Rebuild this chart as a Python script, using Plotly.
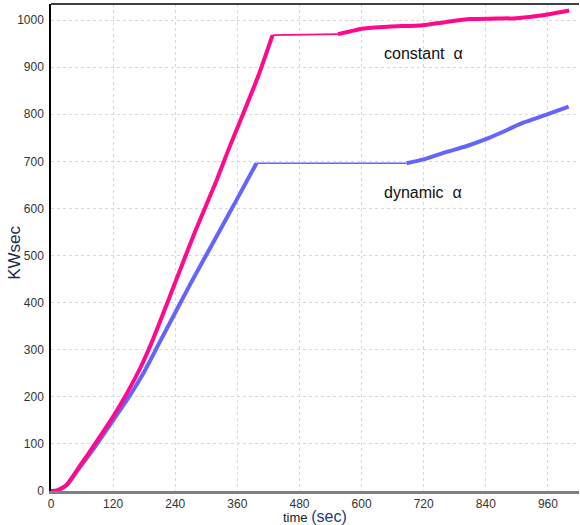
import plotly.graph_objects as go

# constant alpha series (thick parts + thin connecting flat segment)
const_t1 = [0, 12, 30, 55, 85, 120, 149, 175, 194, 239, 278, 320, 344, 362, 400, 428]
const_v1 = [0, 1, 13, 52, 100, 158, 212, 267, 314, 440, 550, 660, 728, 776, 880, 968]
const_tflat = [428, 554]
const_vflat = [968, 970]
const_t2 = [554, 575, 603, 654, 718, 764, 809, 860, 899, 950, 1001]
const_v2 = [970, 975, 982, 986, 989, 996, 1002, 1003, 1004, 1010, 1020]

# dynamic alpha series
dyn_t1 = [0, 12, 30, 55, 85, 120, 149, 181, 210, 268, 320, 358, 397]
dyn_v1 = [0, 1, 12, 49, 94, 150, 197, 255, 316, 437, 541, 617, 696]
dyn_tflat = [397, 687]
dyn_vflat = [696, 696]
dyn_t2 = [687, 720, 764, 802, 840, 880, 912, 960, 1000]
dyn_v2 = [696, 704, 720, 732, 747, 766, 782, 800, 816]

x_ticks = [0, 120, 240, 360, 480, 600, 720, 840, 960]
y_ticks = [0, 100, 200, 300, 400, 500, 600, 700, 800, 900, 1000]

MAG = "#ff0a8c"
BLU = "#6464ff"

fig = go.Figure()
fig.add_trace(go.Scatter(x=dyn_t1, y=dyn_v1, mode="lines", line=dict(color=BLU, width=4, shape="spline", smoothing=0.6), hoverinfo="skip"))
fig.add_trace(go.Scatter(x=dyn_tflat, y=dyn_vflat, mode="lines", line=dict(color=BLU, width=1.6), hoverinfo="skip"))
fig.add_trace(go.Scatter(x=dyn_t2, y=dyn_v2, mode="lines", line=dict(color=BLU, width=4, shape="spline", smoothing=0.6), hoverinfo="skip"))
fig.add_trace(go.Scatter(x=const_t1, y=const_v1, mode="lines", line=dict(color=MAG, width=4, shape="spline", smoothing=0.6), hoverinfo="skip"))
fig.add_trace(go.Scatter(x=const_tflat, y=const_vflat, mode="lines", line=dict(color=MAG, width=1.6), hoverinfo="skip"))
fig.add_trace(go.Scatter(x=const_t2, y=const_v2, mode="lines", line=dict(color=MAG, width=4, shape="spline", smoothing=0.6), hoverinfo="skip"))

fig.add_annotation(x=720, y=928, text="constant  α", showarrow=False,
                   font=dict(family="Arial, Liberation Sans", size=16, color="#111111"))
fig.add_annotation(x=718, y=633, text="dynamic  α", showarrow=False,
                   font=dict(family="Arial, Liberation Sans", size=16, color="#111111"))

# axis titles
fig.add_annotation(xref="paper", yref="paper", x=0.5, y=0, yanchor="middle", yshift=-25.5,
                   showarrow=False,
                   text="time <span style='font-size:16px;color:#1f3a78'>(sec)</span>",
                   font=dict(family="Arial, Liberation Sans", size=13, color="#222222"))
fig.add_annotation(xref="paper", yref="paper", x=0, y=0.489, xanchor="center", xshift=-36,
                   showarrow=False, textangle=-90, text="KWsec",
                   font=dict(family="Arial, Liberation Sans", size=17, color="#1a2a4a"))

fig.add_shape(type="line", xref="paper", yref="paper", x0=0, x1=1, y0=1, y1=1,
              line=dict(color="black", width=1.5))

fig.update_layout(
    width=580, height=525,
    margin=dict(l=51, r=1, t=4, b=34),
    paper_bgcolor="white", plot_bgcolor="white",
    showlegend=False,
    font=dict(family="Arial, Liberation Sans", size=12, color="#333333"),
    xaxis=dict(range=[0, 1020], tickvals=x_ticks, ticktext=[str(v) for v in x_ticks],
               showgrid=True, gridcolor="#d8d8d8", griddash="dot", gridwidth=1,
               showline=True, linecolor="#808080", linewidth=3, zeroline=False,
               ticks="", ticklabelstandoff=0, automargin=False),
    yaxis=dict(range=[0, 1034], tickvals=y_ticks, ticktext=[str(v) for v in y_ticks],
               showgrid=True, gridcolor="#d8d8d8", griddash="dot", gridwidth=1,
               showline=True, linecolor="black", linewidth=1.5, zeroline=False,
               ticks="", ticklabelstandoff=3, automargin=False),
)

fig.write_html("out.html", config={"displayModeBar": False},
               post_script="document.body.style.margin='0';document.body.style.overflow='hidden';")
